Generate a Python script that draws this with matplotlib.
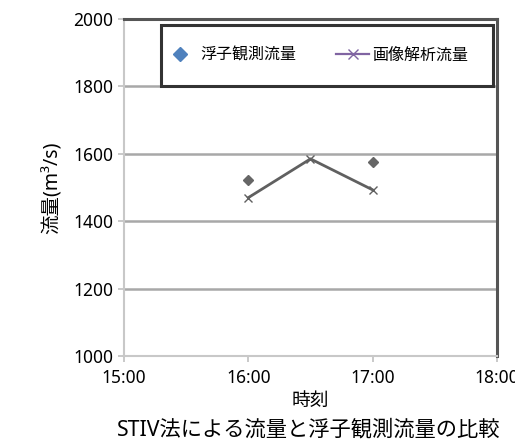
import matplotlib
matplotlib.use("Agg")
import matplotlib.pyplot as plt
from matplotlib.lines import Line2D
from matplotlib.patches import Rectangle

plt.rcParams['font.family'] = ['Noto Sans', 'Noto Sans CJK JP', 'DejaVu Sans']

# Float measurement (浮子観測) and image analysis (画像解析) discharge
float_times = ["16:00", "17:00"]
float_flow = [1522, 1576]
image_times = ["16:00", "16:30", "17:00"]
image_flow = [1470, 1585, 1493]
x_tick_labels = ["15:00", "16:00", "17:00", "18:00"]
y_ticks = [1000, 1200, 1400, 1600, 1800, 2000]


def to_hours(t):
    h, m = t.split(":")
    return int(h) + int(m) / 60.0


fig = plt.figure(figsize=(5.15, 4.41), dpi=100)
ax = fig.add_axes([0.2408, 0.1927, 0.7242, 0.7642])

ax.plot([to_hours(t) for t in image_times], image_flow, color="#606060",
        lw=2.0, marker="x", ms=6, mew=1.0, zorder=3)
ax.plot([to_hours(t) for t in float_times], float_flow, linestyle="none",
        color="#666666", marker="D", ms=5.5, zorder=3)

ax.set_xlim(15, 18)
ax.set_ylim(1000, 2000)
ax.set_xticks([to_hours(t) for t in x_tick_labels])
ax.set_xticklabels(x_tick_labels)
ax.set_yticks(y_ticks)

for v in y_ticks[1:-1]:
    ax.axhline(v, color="#a8a8a8", lw=1.8, zorder=1)

for side in ("left", "bottom"):
    ax.spines[side].set_color("#c8c8c8")
    ax.spines[side].set_linewidth(1.5)
for side in ("top", "right"):
    ax.spines[side].set_color("#555555")
    ax.spines[side].set_linewidth(2.2)

ax.tick_params(axis="both", labelsize=12.5, colors="#c0c0c0", labelcolor="black",
               length=4, width=1.2)
ax.tick_params(axis="x", pad=5)

ax.set_xlabel("時刻", fontsize=13.5, labelpad=4)
ax.set_ylabel("流量(m³/s)", fontsize=14, labelpad=8)

# legend box
ax.add_patch(Rectangle((0.099, 0.801), 0.891, 0.181, transform=ax.transAxes,
                       facecolor="white", edgecolor="#333333", lw=2.2,
                       zorder=4))
handles = [
    Line2D([], [], linestyle="none", marker="D", color="#4f81bd", ms=7),
    Line2D([], [], color="#8064a2", lw=1.6, marker="x", ms=7, mew=1.0),
]
leg = ax.legend(handles, ["浮子観測流量", "画像解析流量"], ncol=2, loc="center left",
                bbox_to_anchor=(0.105, 0.891), frameon=False, fontsize=11.5,
                borderpad=0.0, handlelength=2.1, handletextpad=0.2,
                columnspacing=2.5, borderaxespad=0.0)
leg.set_zorder(5)

fig.text(0.599, 0.026, "STIV法による流量と浮子観測流量の比較", ha="center",
         va="center", fontsize=15.3)

fig.savefig("out.png", dpi=100)
